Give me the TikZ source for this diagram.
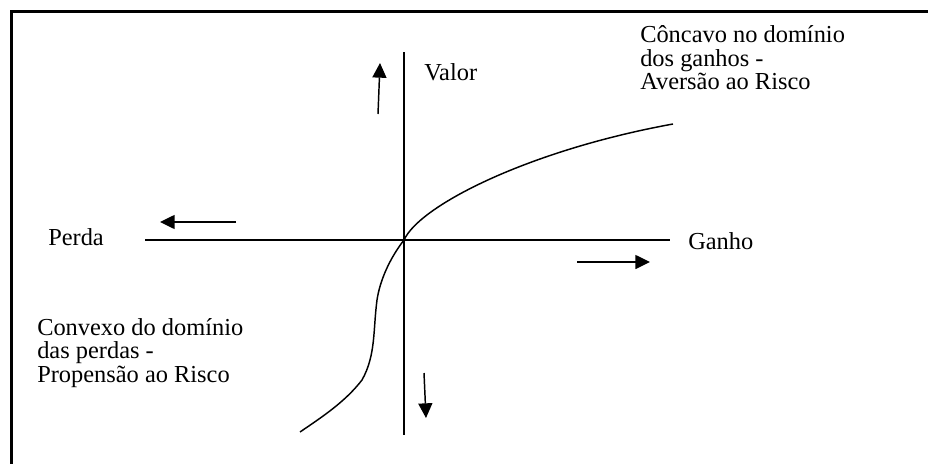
\documentclass[tikz,border=0pt]{standalone}
\usepackage{fontspec}
\setmainfont{Liberation Serif}
\usetikzlibrary{arrows.meta}
\begin{document}
\begin{tikzpicture}[x=0.75pt,y=-0.75pt,font=\fontsize{18.3}{17.7}\selectfont,
  lbl/.style={inner sep=0pt,anchor=west,align=left},
  axis/.style={line width=1.4pt},
  dir/.style={line width=1.1pt,-{Triangle[length=11pt,width=10.5pt]}},>=stealth]
\useasboundingbox (0,0) rectangle (928,464);
\draw[line width=1.9pt] (11.5,464) -- (11.5,11.5) -- (928,11.5);
% axes
\coordinate (o) at (404,240);
\draw[axis] (145,240) -- (670,240);
\draw[axis] (404,52) -- (404,435);
\node[lbl] (valor) at (424,72) {Valor};
\node[lbl] (perda) at (48,237) {Perda};
\node[lbl] (ganho) at (688,241) {Ganho};
% direction arrows
\draw[dir] (378,114) -- (380,63);
\draw[dir] (236,222) -- (160,222);
\draw[dir] (577,262) -- (650,262);
\draw[dir] (424,373) -- (426,418);
% value function
\draw[line width=1.1pt] (300,432) .. controls (322,417) and (345,402) .. (362,380)
  .. controls (376,355) and (373,330) .. (377,300)
  .. controls (380,280) and (390,258) .. (o)
  .. controls (420,205) and (530,150) .. (673,124);
\node[lbl] (gains) at (640,58) {Côncavo no domínio\\dos ganhos -\\Aversão ao Risco};
\node[lbl] (losses) at (37,353) {Convexo do domínio\\das perdas -\\Propensão ao Risco};
\end{tikzpicture}
\end{document}
